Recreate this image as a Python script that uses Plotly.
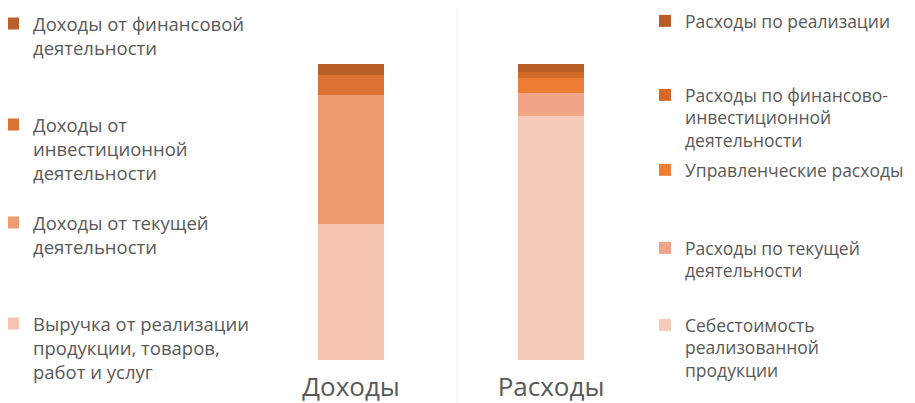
import plotly.graph_objects as go

# The page adds an 8px body margin, so the figure is drawn 8px in and down.
OFF = 8
W, H = 915 - OFF, 403 - OFF

categories = ["Доходы", "Расходы"]

income_names = [
    "Выручка от реализации<br>продукции, товаров,<br>работ и услуг",
    "Доходы от текущей<br>деятельности",
    "Доходы от<br>инвестиционной<br>деятельности",
    "Доходы от финансовой<br>деятельности",
]
income_values = [45.9, 43.5, 6.8, 3.7]
income_colors = ["#F5C4B1", "#F09A70", "#DC7232", "#B95F29"]

expense_names = [
    "Себестоимость<br>реализованной<br>продукции",
    "Расходы по текущей<br>деятельности",
    "Управленческие расходы",
    "Расходы по финансово-<br>инвестиционной<br>деятельности",
    "Расходы по реализации",
]
expense_values = [82.3, 7.8, 5.1, 2.0, 2.7]
expense_colors = ["#F6CABA", "#F2A487", "#EE7E33", "#D4692A", "#B85E28"]

# legend anchor (screen pixel) positions: text left x, first-line centre y
income_legend_pos = [(33, 323), (33, 222), (33, 124), (33, 23)]
expense_legend_pos = [(685, 325), (685, 248), (685, 170), (685, 95), (685, 21)]

FONT = "Open Sans"
TEXT_COLOR = "#595959"
PLOT_BOTTOM = 360 - OFF   # figure px
BAR_TOP = 64 - OFF
LEG_DX = 40   # legend left edge -> text start
LEG_DY = 18   # legend top edge -> first line centre

fig = go.Figure()
layout_legends = {}
idx = 1


def legend_key(i):
    return "legend" if i == 1 else f"legend{i}"


def legend_cfg(lx, ly, size):
    fx = lx - OFF - LEG_DX
    fy = ly - OFF - LEG_DY
    return dict(x=fx / W, y=(PLOT_BOTTOM - fy) / PLOT_BOTTOM,
                xanchor="left", yanchor="top", bgcolor="rgba(0,0,0,0)", valign="top",
                font=dict(family=FONT, size=size, color=TEXT_COLOR))


for name, val, col, (lx, ly) in zip(income_names, income_values, income_colors, income_legend_pos):
    key = legend_key(idx)
    fig.add_trace(go.Bar(x=[categories[0]], y=[val], name=name, marker=dict(color=col, line=dict(width=0)),
                         width=0.33, legend=key))
    layout_legends[key] = legend_cfg(lx, ly, 18.5)
    idx += 1

for name, val, col, (lx, ly) in zip(expense_names, expense_values, expense_colors, expense_legend_pos):
    key = legend_key(idx)
    fig.add_trace(go.Bar(x=[categories[1]], y=[val], name=name, marker=dict(color=col, line=dict(width=0)),
                         width=0.33, legend=key))
    layout_legends[key] = legend_cfg(lx, ly, 17.5)
    idx += 1

# x mapping: category 0 centre at screen 351px, category 1 at 551px
px_per_cat = 200
c0 = 351 - OFF
c1 = 551 - OFF
x0 = -c0 / px_per_cat
x1 = 1 + (W - c1) / px_per_cat

fig.update_layout(
    width=W, height=H,
    barmode="stack",
    margin=dict(l=0, r=0, t=0, b=H - PLOT_BOTTOM, autoexpand=False),
    paper_bgcolor="white", plot_bgcolor="white",
    showlegend=True,
    xaxis=dict(type="category", range=[x0, x1], showgrid=False, zeroline=False, showline=False,
               automargin=False, tickfont=dict(family=FONT, size=26, color=TEXT_COLOR), ticks="",
               ticklabelstandoff=9),
    yaxis=dict(range=[0, 100 * PLOT_BOTTOM / (PLOT_BOTTOM - BAR_TOP)], visible=False, automargin=False),
    shapes=[dict(type="line", xref="paper", yref="paper", x0=(457 - OFF) / W, x1=(457 - OFF) / W,
                 y0=-(H - PLOT_BOTTOM) / PLOT_BOTTOM, y1=1,
                 line=dict(color="#F0F0F0", width=1))],
    **layout_legends,
)

fig.write_html("out.html")
